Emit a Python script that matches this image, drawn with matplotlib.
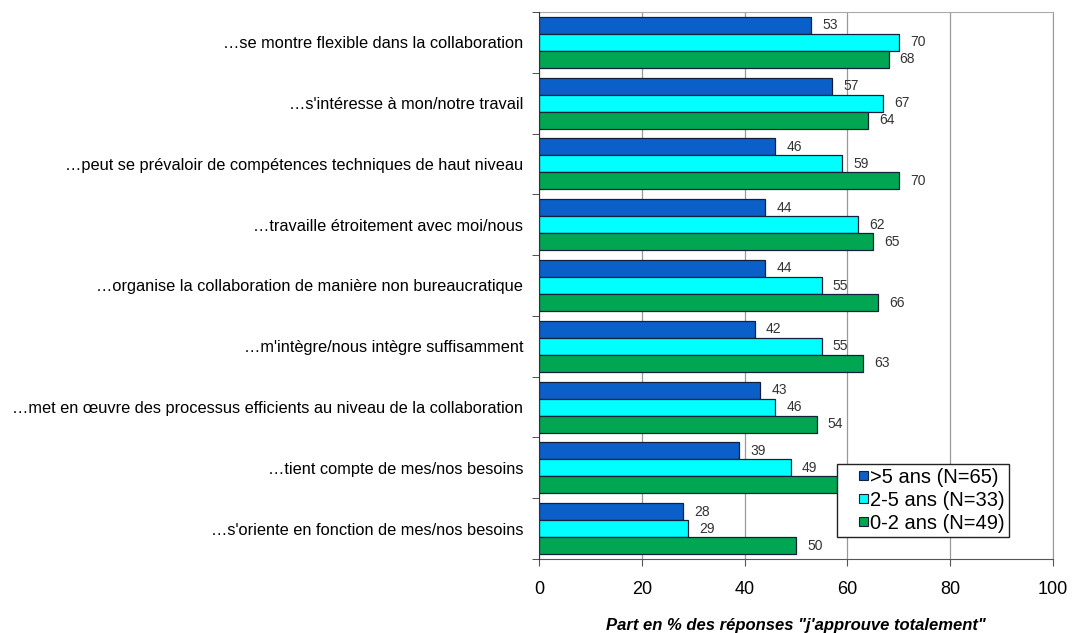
import matplotlib.pyplot as plt
from matplotlib.legend_handler import HandlerPatch
from matplotlib.patches import Rectangle
import numpy as np

plt.rcParams['font.family'] = ['Liberation Sans', 'DejaVu Sans']

# Datos del gráfico (de arriba hacia abajo).
categorias = [
    "…se montre flexible dans la collaboration",
    "…s'intéresse à mon/notre travail",
    "…peut se prévaloir de compétences techniques de haut niveau",
    "…travaille étroitement avec moi/nous",
    "…organise la collaboration de manière non bureaucratique",
    "…m'intègre/nous intègre suffisamment",
    "…met en œuvre des processus efficients au niveau de la collaboration",
    "…tient compte de mes/nos besoins",
    "…s'oriente en fonction de mes/nos besoins",
]
plus_5 = [53, 57, 46, 44, 44, 42, 43, 39, 28]
de_2_5 = [70, 67, 59, 62, 55, 55, 46, 49, 29]
de_0_2 = [68, 64, 70, 65, 66, 63, 54, 63, 50]
series = [">5 ans (N=65)", "2-5 ans (N=33)", "0-2 ans (N=49)"]
colores = ['#0B5FC9', '#00FFFF', '#00A651']
borde = '#14203a'


# Cuadrado pequeño a la derecha de la caja de la leyenda.
def cuadrado(legend, orig_handle, xdescent, ydescent, width, height, fontsize):
    s = 0.45 * fontsize
    return Rectangle((-xdescent + width - s, -ydescent + (height - s) / 2), s, s)


fig = plt.figure(figsize=(10.72, 6.33), dpi=100)
ax = fig.add_axes([539 / 1072, 1 - 559 / 633, 514 / 1072, 547 / 633])

n = len(categorias)
y = np.arange(n)
h = 0.28
valores = [plus_5, de_2_5, de_0_2]
for i, (vals, col) in enumerate(zip(valores, colores)):
    pos = y + (i - 1) * h
    ax.barh(pos, vals, height=h, color=col, edgecolor=borde,
            linewidth=0.9, zorder=3)
    for p, v in zip(pos, vals):
        ax.annotate(str(v), (v, p), xytext=(8, 0), textcoords='offset points',
                    va='center', ha='left', fontsize=10, color='#333333',
                    zorder=4)

ax.set_xlim(0, 100)
ax.set_ylim(n - 0.5, -0.5)
ax.set_xticks(range(0, 101, 20))
ax.tick_params(axis='x', labelsize=13, length=5, direction='out', pad=11,
               color='#555555')
ax.set_yticks(y)
ax.set_yticklabels(categorias, fontsize=11.8)
ax.set_yticks(np.arange(-0.5, n, 1), minor=True)
ax.tick_params(axis='y', which='major', length=0, pad=11.5)
ax.tick_params(axis='y', which='minor', length=5, direction='out',
               color='#333333')
ax.grid(True, axis='x', color='#999999', linewidth=0.9, zorder=0)

ax.spines['top'].set_color('#aaaaaa')
ax.spines['right'].set_color('#999999')
ax.spines['bottom'].set_color('#555555')
ax.spines['left'].set_color('#333333')
ax.spines['left'].set_zorder(5)

ax.set_xlabel("Part en % des réponses \"j'approuve totalement\"",
              fontsize=12, fontweight='bold', fontstyle='italic', labelpad=14)

# Leyenda con cuadrados pequeños.
cajas = [Rectangle((0, 0), 1, 1, facecolor=c, edgecolor=borde, linewidth=0.8)
         for c in colores]
leg = ax.legend(cajas, series, loc='lower right',
                bbox_to_anchor=(0.9144, 0.0402),
                borderaxespad=0, fontsize=14.5, frameon=True, fancybox=False,
                edgecolor='#222222', framealpha=1,
                handlelength=1.35, handleheight=0.7, borderpad=0.2,
                labelspacing=0.2, handletextpad=0.12,
                handler_map={Rectangle: HandlerPatch(patch_func=cuadrado)})
leg.get_frame().set_linewidth(1.0)
leg.set_zorder(10)

fig.savefig('out.png', dpi=100, facecolor='white')
